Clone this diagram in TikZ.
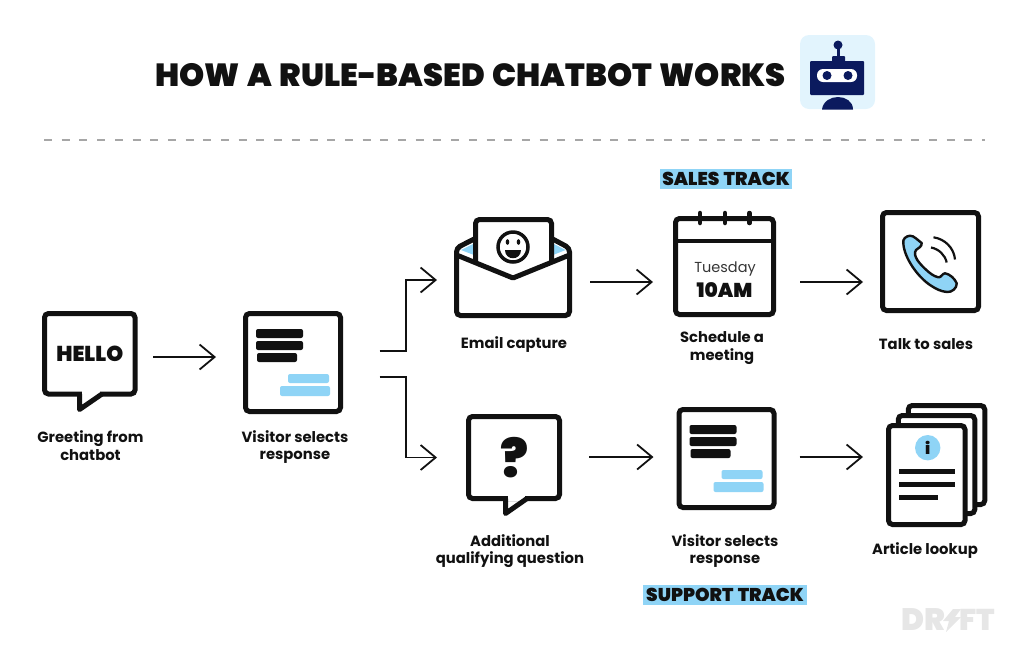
\documentclass[tikz,border=0pt]{standalone}
\usepackage{fontspec}
\setmainfont{Poppins}
\newfontfamily\heavyfont[WordSpace=1.4]{Poppins Black}
\usetikzlibrary{arrows.meta}
\usetikzlibrary{calc}
\definecolor{ink}{HTML}{111111}
\definecolor{skyblue}{HTML}{8FD4F6}
\definecolor{botblue}{HTML}{E2F4FD}
\definecolor{botnavy}{HTML}{0B1A5E}
\definecolor{logogray}{HTML}{E6E6E6}
\tikzset{>={Straight Barb[length=15pt,width=25pt]}}
\tikzset{flow/.style={->,line width=1.8pt,draw=ink}}
\tikzset{iconbox/.style={draw=ink,line width=5pt,rounded corners=4pt,inner sep=0pt,outer sep=0pt,fill=white}}
\tikzset{iconline/.style={draw=ink,line width=5pt,rounded corners=4pt}}
\tikzset{lab/.style={font=\bfseries\fontsize{14.8}{17.5}\selectfont,align=center,text=ink,inner sep=0pt}}
\tikzset{track/.style={fill=skyblue,text=ink,font=\heavyfont\fontsize{18.5}{20}\selectfont,inner sep=0pt,minimum height=20pt,text height=13pt,text depth=0pt}}
\newcommand{\responseicon}[3]{
    \node[iconbox,minimum width=95pt,minimum height=98pt] (#1) at (#2,#3) {};
    \begin{scope}[shift={(#2,#3)},rounded corners=2pt]
        \fill[ink] (-37,-33.5) rectangle (10,-24.5);
        \fill[ink] (-37,-21.5) rectangle (10,-12.5);
        \fill[ink] (-36,-9.5) rectangle (4,-0.5);
        \fill[skyblue] (-5,11.5) rectangle (36,20.5);
        \fill[skyblue] (-13,23.5) rectangle (37,33.5);
    \end{scope}
}
\newcommand{\bubbletail}[3]{
    \draw[white,line width=5.6pt] ($#1+(2.5,0)$) -- ($#3+(-2.5,0)$);
    \draw[draw=ink,line width=5pt,line join=round] #1 -- #2 -- #3;
}

\begin{document}
\begin{tikzpicture}[x=1pt,y=-1pt]
    \useasboundingbox (0,0) rectangle (1024,649);

    \node[text=ink,font=\heavyfont\fontsize{32}{34}\selectfont,inner sep=0pt] (title) at (470.5,75) {HOW A RULE-BASED CHATBOT WORKS};

    \fill[botblue,rounded corners=9pt] (800,35) rectangle (875,109);
    \fill[botnavy] (838,45) circle[radius=4.5];
    \fill[botnavy] (836.5,45) rectangle (839.5,57);
    \fill[botnavy,rounded corners=1pt] (832,56) rectangle (845,63);
    \fill[botnavy,rounded corners=1pt] (810,61) rectangle (864,95);
    \fill[white,rounded corners=6pt] (817,69) rectangle (857,82);
    \fill[botnavy] (827,75.5) circle[radius=4.5];
    \fill[botnavy] (848,75.5) circle[radius=4.5];
    \fill[botnavy] (822,109.5) .. controls (823,101) and (831,97) .. (838,97) .. controls (845,97) and (853,101) .. (853,109.5) -- cycle;

    \coordinate (ruleL) at (44,140);
    \coordinate (ruleR) at (985,140);
    \draw[black!35,line width=2.6pt,dash pattern=on 8pt off 9.7pt] (ruleL) -- (ruleR);

    \node[track,minimum width=132pt] (sales) at (726,179) {SALES TRACK};
    \node[track,minimum width=164pt] (support) at (725,594.5) {SUPPORT TRACK};

    \node[iconbox,minimum width=90.5pt,minimum height=80.5pt,font=\heavyfont\fontsize{21.5}{23}\selectfont,text=ink] (hello) at (89.75,353.75) {HELLO};
    \bubbletail{(79.5,394)}{(79.5,409.5)}{(102,394)}
    \node[lab] (hellolab) at (90.5,445.5) {Greeting from\\chatbot};

    \responseicon{visitorA}{293}{362.5}
    \node[lab] (visitorAlab) at (295,447) {Visitor selects\\response};

    \node[inner sep=0pt,outer sep=0pt,minimum width=113pt,minimum height=70pt] (email) at (513,280) {};
    \draw[iconline,fill=white] (480,236) -- (456.5,248) -- (456.5,315.5) -- (569.5,315.5) -- (569.5,248) -- (547,236);
    \fill[skyblue] (461,250) -- (474,243.5) -- (474,255) -- cycle;
    \fill[skyblue] (553,243.5) -- (565.5,250) -- (553,255) -- cycle;
    \draw[iconline,fill=white] (475.5,263) -- (475.5,219.5) -- (551.5,219.5) -- (551.5,263);
    \draw[iconline,rounded corners=1pt] (456.5,255) -- (513,278) -- (569.5,255);
    \draw[ink,line width=3.5pt] (513,247) circle[radius=15];
    \fill[ink] (507.5,242) ellipse[x radius=1.8,y radius=2.8];
    \fill[ink] (518.5,242) ellipse[x radius=1.8,y radius=2.8];
    \fill[ink] (505,250) .. controls (505,261) and (521,261) .. (521,250) -- cycle;
    \node[lab] (emaillab) at (514,345) {Email capture};

    \node[iconbox,minimum width=98pt,minimum height=96pt] (calendar) at (724.5,266.5) {};
    \draw[ink,line width=4pt] (calendar.west |- 0,241) -- (calendar.east |- 0,241);
    \foreach \ringx in {700,725,749.5}
        \draw[ink,line width=4.5pt,line cap=round] (\ringx,213) -- (\ringx,223);
    \node[text=ink!85,font=\fontsize{14.5}{17}\selectfont,inner sep=0pt] (tuesday) at (725,268.5) {Tuesday};
    \node[text=ink,font=\heavyfont\fontsize{20}{22}\selectfont,inner sep=0pt] (tenam) at (724.5,290) {10AM};
    \node[lab] (calendarlab) at (722,348) {Schedule a\\meeting};

    \node[iconbox,minimum width=96pt,minimum height=98pt] (phone) at (930.5,261.5) {};
    \draw[ink,fill=skyblue,line width=2.4pt,line join=round] (910,235.7) .. controls (906,236) and (902.5,239) .. (903.3,243)
        .. controls (904,258) and (918,277) .. (930,285) .. controls (936,289) and (941,291.5) .. (947,292)
        .. controls (952,292.5) and (957,288) .. (956.7,283.3) .. controls (955,279) and (950,274) .. (945,273.3)
        .. controls (942,273.5) and (941,278) .. (938.3,277.3) .. controls (933,276) and (930,273) .. (928.3,271.7)
        .. controls (924,268) and (920,264) .. (917.3,260) .. controls (915,256) and (914,253) .. (916,250)
        .. controls (918,248) and (922,247) .. (921.7,243) .. controls (918,240.5) and (914,235.5) .. (910,235.7) -- cycle;
    \draw[ink,line width=2.2pt] (931,247.5) .. controls (939,249) and (945,255) .. (946.7,262.5);
    \draw[ink,line width=2.2pt] (933.5,237.3) .. controls (945,239) and (954,248) .. (955,259.5);
    \node[lab] (phonelab) at (926,344) {Talk to sales};

    \node[iconbox,minimum width=91pt,minimum height=82pt,font=\heavyfont\fontsize{52}{54}\selectfont,text=ink] (question) at (514,457.5) {?};
    \bubbletail{(505.5,498.5)}{(505.5,513.5)}{(527,498.5)}
    \node[lab] (questionlab) at (510,551) {Additional\\qualifying question};

    \responseicon{visitorB}{726.5}{458.5}
    \node[lab] (visitorBlab) at (725,551) {Visitor selects\\response};

    \node[iconbox,minimum width=76.5pt,minimum height=99pt] (articleback) at (946.5,455) {};
    \node[iconbox,minimum width=76.5pt,minimum height=98pt] (articlemid) at (936.5,464.5) {};
    \node[iconbox,minimum width=76.5pt,minimum height=99pt] (article) at (926.75,475) {};
    \fill[skyblue] (927.7,447.7) circle[radius=12.7];
    \node[text=ink,font=\heavyfont\fontsize{16}{18}\selectfont,inner sep=0pt] (infomark) at (927.7,447.7) {i};
    \fill[ink] (899,468.5) rectangle (955,473.5);
    \fill[ink] (899,482) rectangle (955,487);
    \fill[ink] (899,495) rectangle (938,500);
    \node[lab] (articlelab) at (925,551) {Article lookup};

    \node[text=logogray,font=\heavyfont\fontsize{31}{33}\selectfont,inner sep=0pt,anchor=east] (driftA) at (945,620) {DR};
    \node[text=logogray,font=\heavyfont\fontsize{30}{33}\selectfont,inner sep=0pt,anchor=west] (driftB) at (959,620) {FT};
    \fill[logogray] (953,609) -- (943,621) -- (949,621) -- (946,632) -- (961,617) -- (955,617) -- (961,609) -- cycle;

    \draw[flow,shorten <=18pt,shorten >=29.5pt] ([yshift=-3.25pt]hello.east) -- ([yshift=5.5pt]visitorA.west);
    \draw[flow,shorten <=39pt] ([yshift=11.5pt]visitorA.east) -- ++(65.5,0) |- ([xshift=-19.5pt]email.west);
    \draw[flow,shorten <=39pt] ([yshift=-14.5pt]visitorA.east) -- ++(65.5,0) |- ([xshift=-31.5pt]question.west);
    \draw[flow,shorten <=20.5pt,shorten >=22.5pt] ([yshift=-2pt]email.east) -- ([yshift=-15.5pt]calendar.west);
    \draw[flow,shorten <=26.5pt,shorten >=19.5pt] ([yshift=-15.5pt]calendar.east) -- ([yshift=-20.5pt]phone.west);
    \draw[flow,shorten <=29.5pt,shorten >=25.5pt] ([yshift=.5pt]question.east) -- ([yshift=1.5pt]visitorB.west);
    \draw[flow,shorten <=25.5pt,shorten >=25.5pt] ([yshift=1.5pt]visitorB.east) -- ([yshift=18pt]article.west);
\end{tikzpicture}
\end{document}
